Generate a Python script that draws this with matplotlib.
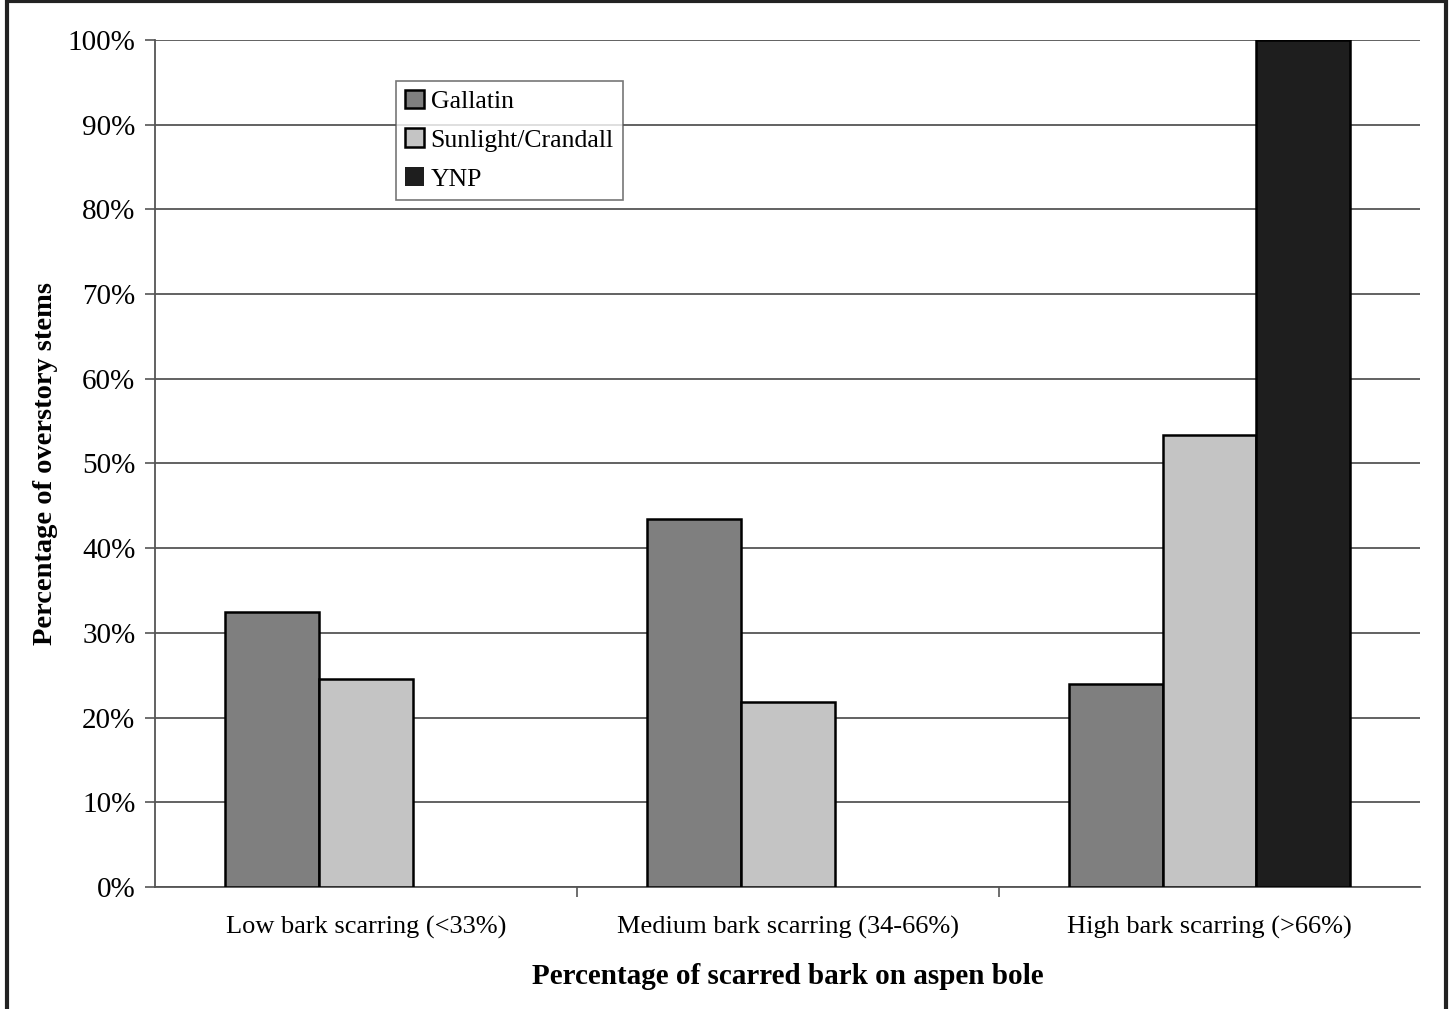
import numpy as np
import matplotlib.pyplot as plt
from matplotlib.patches import Rectangle

# Chart data
CATEGORIES = ["Low bark scarring (<33%)", "Medium bark scarring (34-66%)", "High bark scarring (>66%)"]
SERIES = ["Gallatin", "Sunlight/Crandall", "YNP"]
GALLATIN = [32.5, 43.5, 24.0]
SUNLIGHT = [24.6, 21.9, 53.4]
YNP = [0.0, 0.0, 100.0]
Y_TICKS = [0, 10, 20, 30, 40, 50, 60, 70, 80, 90, 100]

COLORS = ["#7f7f7f", "#c4c4c4", "#1e1e1e"]

plt.rcParams['font.family'] = ['Liberation Serif', 'DejaVu Serif']

fig = plt.figure(figsize=(14.52, 10.09), dpi=100)
ax = fig.add_axes([0.1067, 0.1209, 0.8715, 0.8395])

x = np.arange(len(CATEGORIES))
width = 1 / 4.5
for i, (name, vals) in enumerate(zip(SERIES, [GALLATIN, SUNLIGHT, YNP])):
    lw = [1.8 if v > 0 else 0 for v in vals]   # no edge line for empty bars
    ax.bar(x + (i - 1) * width, vals, width, color=COLORS[i], edgecolor="black",
           linewidth=lw, label=name, zorder=3)

ax.set_xlim(-0.5, 2.5)
ax.set_ylim(0, 100)
ax.set_yticks(Y_TICKS)
ax.set_yticklabels([f"{v}%" for v in Y_TICKS], fontsize=21)
ax.yaxis.grid(True, color="#555555", linewidth=1.3, zorder=0)
ax.tick_params(axis="y", length=7, width=1.2, color="#555555", pad=7)

# category ticks at boundaries, labels at centres
ax.set_xticks([0.5, 1.5])
ax.set_xticklabels([])
ax.tick_params(axis="x", length=7, width=1.2, color="#555555")
for xi, lab in zip(x, CATEGORIES):
    ax.text(xi, -3.4, lab, ha="center", va="top", fontsize=19)

for s in ["top", "right"]:
    ax.spines[s].set_visible(False)
ax.spines["left"].set_color("#555555")
ax.spines["left"].set_linewidth(1.3)
ax.spines["bottom"].set_color("#555555")
ax.spines["bottom"].set_linewidth(1.3)

ax.set_xlabel("Percentage of scarred bark on aspen bole", fontsize=21, fontweight="bold", labelpad=44)
ax.set_ylabel("Percentage of overstory stems", fontsize=20.5, fontweight="bold", labelpad=7)

leg = ax.legend(loc="upper left", bbox_to_anchor=(0.1905, 0.952), fontsize=18.5, frameon=True,
                fancybox=False, edgecolor="#555555", handlelength=0.75, handleheight=0.75,
                handletextpad=0.25, borderpad=0.35, labelspacing=0.6, borderaxespad=0)
leg.get_frame().set_linewidth(1.2)

# outer frame round the figure
fig.patches.append(Rectangle((0.0045, -0.05), 0.9915, 1.0495, transform=fig.transFigure,
                             fill=False, edgecolor="#222222", linewidth=3))

fig.savefig("out.png", dpi=100)
